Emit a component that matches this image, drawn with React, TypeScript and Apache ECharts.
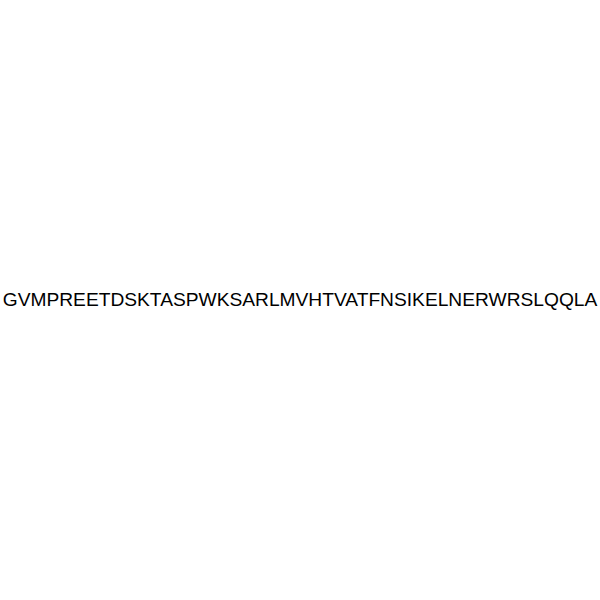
import { useEffect, useRef } from 'react';
import * as echarts from 'echarts';

const sequence = 'GVMPREETDSKTASPWKSARLMVHTVATFNSIKELNERWRSLQQLA';

export default function App() {
  const chartRef = useRef<HTMLDivElement>(null);

  useEffect(() => {
    if (!chartRef.current) return;
    document.body.style.margin = '0';

    const chart = echarts.init(chartRef.current, undefined, { renderer: 'svg' });

    chart.setOption({
      animation: false,
      backgroundColor: '#ffffff',
      graphic: [{
        type: 'text',
        x: 300,
        y: 299,
        style: {
          text: sequence,
          x: 0,
          y: 0,
          align: 'center',
          verticalAlign: 'middle',
          fontFamily: 'Liberation Sans, Arial, sans-serif',
          fontSize: 19.2,
          fill: '#000000',
        },
      }],
    });

    return () => chart.dispose();
  }, []);

  return <div ref={chartRef} style={{ width: 600, height: 600 }}></div>;
}
